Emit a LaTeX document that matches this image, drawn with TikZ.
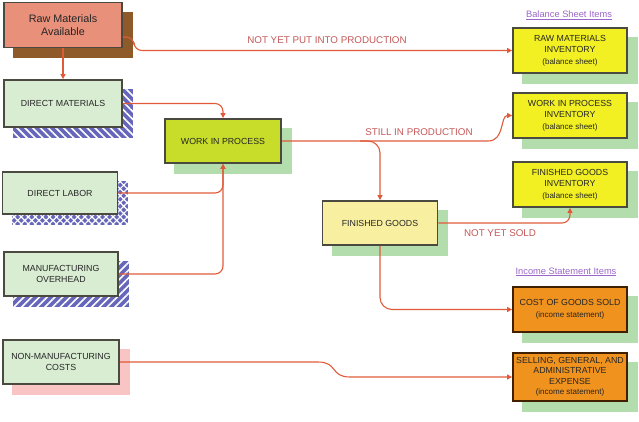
\documentclass[tikz,border=0pt]{standalone}
\usepackage{fontspec}
\setmainfont{Liberation Sans}
\usetikzlibrary{patterns.meta,calc,backgrounds,arrows.meta}
\definecolor{salmon}{HTML}{E8907A}
\definecolor{brownsh}{HTML}{8E5A2A}
\definecolor{lgreen}{HTML}{D9EDD2}
\definecolor{shgreen}{HTML}{B4DDAE}
\definecolor{hatchblue}{HTML}{6666BB}
\definecolor{pinksh}{HTML}{F8C4C4}
\definecolor{wipfill}{HTML}{C8DC2A}
\definecolor{fgfill}{HTML}{F8F0A0}
\definecolor{invfill}{HTML}{F2F022}
\definecolor{orfill}{HTML}{F0921E}
\definecolor{bord}{HTML}{4A4A40}
\definecolor{conncol}{HTML}{E05A3A}
\definecolor{labcol}{HTML}{C45858}
\definecolor{headcol}{HTML}{9A66C8}
\newcommand{\subt}{\fontsize{8}{11.5}\selectfont}
\tikzset{
  box/.style={draw=bord, line width=1.8pt, align=center, inner sep=2pt,
    font=\fontsize{8.8}{11.5}\selectfont, text=black!85},
  conn/.style={draw=conncol, line width=1.1pt, rounded corners=8pt,
    -{Triangle[length=5pt,width=5pt]}},
  lab/.style={text=labcol, font=\fontsize{9.8}{11}\selectfont},
  head/.style={text=headcol, font=\fontsize{9.3}{11}\selectfont},
}
\newcommand{\shadowbox}[2]{%
  \fill[#2] ($(#1.north west)+(10,10)$) rectangle ($(#1.south east)+(10,10)$);}
\newcommand{\patbox}[2]{%
  \fill[pattern={#2}, pattern color=white] ($(#1.north west)+(10,10)$) rectangle ($(#1.south east)+(10,10)$);}
\begin{document}
\begin{tikzpicture}[x=1pt,y=-1pt]
\useasboundingbox (0,0) rectangle (639,422);
% nodes
\node[box, fill=salmon, minimum width=118pt, minimum height=45pt, font=\fontsize{10.8}{13}\selectfont] (raw) at (63,25) {Raw Materials\\Available};
\node[box, fill=lgreen, minimum width=118pt, minimum height=47pt] (dm) at (63,103.5) {DIRECT MATERIALS};
\node[box, fill=lgreen, minimum width=115pt, minimum height=42pt] (dl) at (60,193) {DIRECT LABOR};
\node[box, fill=lgreen, minimum width=114pt, minimum height=44pt] (mo) at (61,274) {MANUFACTURING\\OVERHEAD};
\node[box, fill=lgreen, minimum width=116pt, minimum height=44pt] (nm) at (61,362) {NON-MANUFACTURING\\COSTS};
\node[box, fill=wipfill, minimum width=116pt, minimum height=44pt] (wip) at (223,141) {WORK IN PROCESS};
\node[box, fill=fgfill, minimum width=115pt, minimum height=44pt] (fg) at (380,223) {FINISHED GOODS};
\node[box, fill=invfill, minimum width=114pt, minimum height=45pt] (rmi) at (570,50.5) {RAW MATERIALS\\INVENTORY\\{\subt (balance sheet)}};
\node[box, fill=invfill, minimum width=114pt, minimum height=45pt] (wipi) at (570,115.5) {WORK IN PROCESS\\INVENTORY\\{\subt (balance sheet)}};
\node[box, fill=invfill, minimum width=114pt, minimum height=45pt] (fgi) at (570,184.5) {FINISHED GOODS\\INVENTORY\\{\subt (balance sheet)}};
\node[box, fill=orfill, draw=black!75!orange, minimum width=114pt, minimum height=45pt] (cogs) at (570,309.5) {COST OF GOODS SOLD\\{\subt (income statement)}};
\node[box, fill=orfill, draw=black!75!orange, minimum width=114pt, minimum height=48pt, inner sep=1pt, font=\fontsize{8.8}{10.5}\selectfont] (sga) at (570,377) {SELLING, GENERAL, AND\\ADMINISTRATIVE\\EXPENSE\\{\subt (income statement)}};
% headers
\node[head] (bsi) at (569,15) {\underline{Balance Sheet Items}};
\node[head] (isi) at (566,272) {\underline{Income Statement Items}};
% shadows
\begin{pgfonlayer}{background}
\shadowbox{raw}{brownsh}
\shadowbox{dm}{hatchblue}
\patbox{dm}{Lines[angle=-45,distance=5.5pt,line width=1.6pt]}
\shadowbox{dl}{hatchblue}
\patbox{dl}{Hatch[angle=45,distance=5pt,line width=1.2pt]}
\shadowbox{mo}{hatchblue}
\patbox{mo}{Lines[angle=45,distance=5.5pt,line width=1.6pt]}
\shadowbox{nm}{pinksh}
\shadowbox{wip}{shgreen}
\shadowbox{fg}{shgreen}
\shadowbox{rmi}{shgreen}
\shadowbox{wipi}{shgreen}
\shadowbox{fgi}{shgreen}
\shadowbox{cogs}{shgreen}
\shadowbox{sga}{shgreen}
\end{pgfonlayer}
% connectors
\draw[conn] (raw.south) -- (dm.north);
\draw[conn] ($(raw.east)+(0,12)$) -- (134,37) -- (134,50.5) -- (rmi.west);
\draw[conn] (dm.east) -| (wip.north);
\draw[conn] (dl.east) -| (wip.south);
\draw[conn] (mo.east) -| (wip.south);
\draw[conn, rounded corners=0pt] (wip.east) -- (488,141) .. controls (505,141) and (500,115.5) .. (wipi.west);
\coordinate (branch) at (360,141);
\draw[conn, rounded corners=12pt] (branch) -| (fg.north);
\draw[conn] (fg.east) -| (fgi.south);
\draw[conn, rounded corners=12pt] (fg.south) |- (cogs.west);
\draw[conn, rounded corners=0pt] (nm.east) -- (318,362) .. controls (338,362) and (330,377) .. (350,377) -- (sga.west);
% labels
\node[lab] (l1) at (327,40) {NOT YET PUT INTO PRODUCTION};
\node[lab] (l2) at (419,132) {STILL IN PRODUCTION};
\node[lab] (l3) at (500,233) {NOT YET SOLD};
\end{tikzpicture}
\end{document}
